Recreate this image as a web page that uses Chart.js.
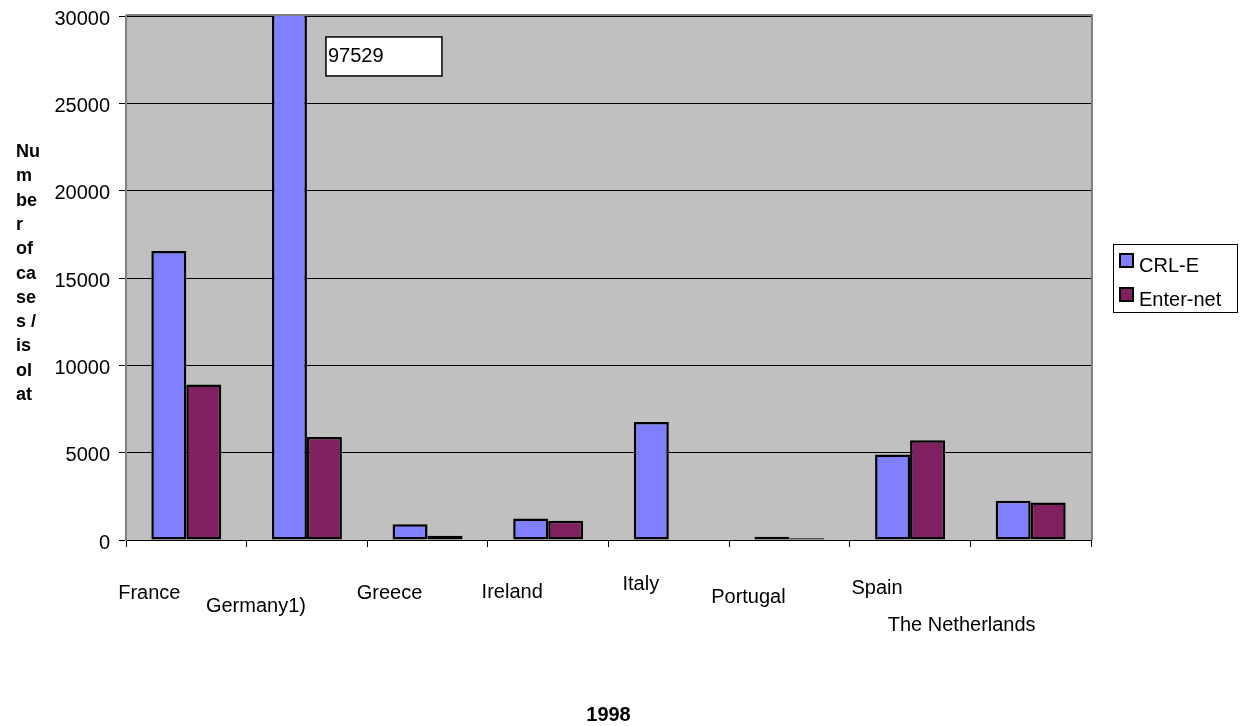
<!DOCTYPE html>
<html>
<head>
<meta charset="utf-8">
<title>CRL-E and Enter-net, 1998</title>
<script src="https://cdn.jsdelivr.net/npm/chart.js@4/dist/chart.umd.min.js"></script>
<style>
  html, body { margin: 0; padding: 0; background: #ffffff; }
  #wrap { width: 1245px; height: 726px; position: relative; }
</style>
</head>
<body>
<div id="wrap"><canvas id="chart" width="1245" height="726"></canvas></div>
<script>
// Countries reporting, 1998
const categories = ['France', 'Germany1)', 'Greece', 'Ireland', 'Italy', 'Portugal', 'Spain', 'The Netherlands'];
// Number of cases / isolates per network
const crlE = [16550, 97529, 900, 1230, 6760, 190, 4900, 2250];
const enterNet = [8900, 5900, 250, 1100, null, 100, 5710, 2150];
const seriesNames = ['CRL-E', 'Enter-net'];
// Value axis
const yMin = 0;
const yMax = 30000;
const yStep = 5000;
const yTitleLines = ['Nu', 'm', 'be', 'r', 'of', 'ca', 'se', 's /', 'is', 'ol', 'at'];
const xTitle = '1998';
// The Germany CRL-E bar runs off the scale; its value is written in a note box
const noteIndex = 1;

const FONT = '"Liberation Sans", Arial, sans-serif';
const BLUE = '#8080ff';
const PURPLE = '#802060';

// Category labels sit in a staggered layout below the axis
const labelShift = [-37, -51, -38, -36, -28, -41, -33, -69];
const labelRowY = [593, 606, 593, 592, 584, 597, 588, 625];

const decorations = {
  id: 'decorations',
  beforeDraw(chart) {
    const { ctx, chartArea: a } = chart;
    ctx.save();
    ctx.fillStyle = '#c0c0c0';
    ctx.fillRect(a.left, a.top, a.right - a.left, a.bottom - a.top);
    ctx.restore();
  },
  afterDraw(chart) {
    const { ctx, chartArea: a } = chart;
    const xs = chart.scales.x;
    const ys = chart.scales.y;
    ctx.save();

    // plot frame, top and right
    ctx.strokeStyle = '#808080';
    ctx.lineWidth = 2;
    ctx.beginPath();
    ctx.moveTo(a.left, a.top - 1);
    ctx.lineTo(a.right + 1, a.top - 1);
    ctx.lineTo(a.right + 1, a.bottom);
    ctx.stroke();

    // category labels
    ctx.fillStyle = '#000';
    ctx.font = '20px ' + FONT;
    ctx.textAlign = 'center';
    ctx.textBaseline = 'middle';
    categories.forEach((c, i) => {
      ctx.fillText(c, xs.getPixelForValue(i) + labelShift[i], labelRowY[i]);
    });

    // axis titles
    ctx.font = 'bold 20px ' + FONT;
    ctx.fillText(xTitle, (a.left + a.right) / 2, 715);
    ctx.font = 'bold 18px ' + FONT;
    ctx.textAlign = 'left';
    ctx.textBaseline = 'alphabetic';
    yTitleLines.forEach((t, i) => ctx.fillText(t, 16, 157 + i * 24.3));

    // note box with the off-scale value
    const nx = xs.getPixelForValue(noteIndex) + 19;
    const ny = ys.getPixelForValue(28800);
    ctx.fillStyle = '#ffffff';
    ctx.fillRect(nx, ny, 116, 39);
    ctx.strokeStyle = '#000';
    ctx.lineWidth = 1.5;
    ctx.strokeRect(nx, ny, 116, 39);
    ctx.fillStyle = '#000';
    ctx.font = '20px ' + FONT;
    ctx.textBaseline = 'middle';
    ctx.fillText(String(crlE[noteIndex]), nx + 2, ny + 20);

    // legend
    const lx = a.right + 22, ly = 244;
    ctx.fillStyle = '#ffffff';
    ctx.fillRect(lx, ly, 124, 68);
    ctx.strokeStyle = '#000';
    ctx.lineWidth = 1;
    ctx.strokeRect(lx + 0.5, ly + 0.5, 124, 68);
    chart.data.datasets.forEach((ds, i) => {
      const sy = ly + 10 + i * 34;
      ctx.fillStyle = ds.backgroundColor;
      ctx.fillRect(lx + 7, sy, 13, 13);
      ctx.strokeStyle = '#000';
      ctx.lineWidth = 2;
      ctx.strokeRect(lx + 7, sy, 13, 13);
      ctx.fillStyle = '#000';
      ctx.font = '20px ' + FONT;
      ctx.textBaseline = 'middle';
      ctx.fillText(ds.label, lx + 26, sy + 12);
    });
    ctx.restore();
  }
};

new Chart(document.getElementById('chart'), {
  type: 'bar',
  data: {
    labels: categories,
    datasets: [
      { label: seriesNames[0], data: crlE, backgroundColor: BLUE, borderColor: '#000', borderWidth: 2.5, borderSkipped: false, clip: 0 },
      { label: seriesNames[1], data: enterNet, backgroundColor: PURPLE, borderColor: '#000', borderWidth: 2.5, borderSkipped: false, clip: 0 }
    ]
  },
  options: {
    responsive: false,
    animation: false,
    layout: { padding: { left: 0, top: 16, right: 154, bottom: 0 } },
    datasets: { bar: { categoryPercentage: 0.58, barPercentage: 1.0 } },
    plugins: { legend: { display: false }, tooltip: { enabled: false }, title: { display: false } },
    scales: {
      x: {
        grid: { display: true, drawOnChartArea: false, drawTicks: true, tickLength: 7, color: '#000', offset: true },
        border: { display: true, color: '#000', width: 1 },
        ticks: { display: false },
        afterFit(scale) { scale.height = 186; scale.paddingLeft = 0; scale.paddingRight = 0; }
      },
      y: {
        min: yMin,
        max: yMax,
        grid: { color: '#000', lineWidth: 1, drawTicks: true, tickLength: 7 },
        border: { display: true, color: '#808080', width: 2 },
        ticks: {
          stepSize: yStep, color: '#000', font: { family: FONT, size: 20 }, padding: 9, labelOffset: 3,
          callback: (v) => String(v)
        },
        afterFit(scale) { scale.width = 126; scale.paddingTop = 0; scale.paddingBottom = 0; }
      }
    }
  },
  plugins: [decorations]
});
</script>
</body>
</html>
